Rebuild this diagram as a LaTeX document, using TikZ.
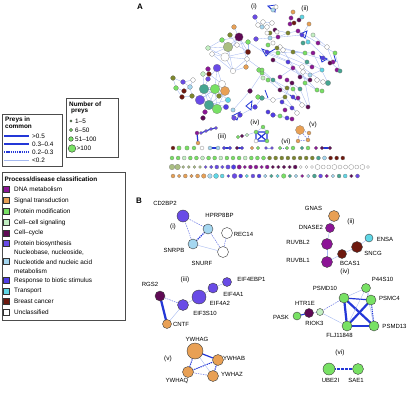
\documentclass[tikz,border=0pt]{standalone}
\usepackage{fontspec}
\setmainfont{Liberation Sans}
\definecolor{dna}{RGB}{140,20,150}
\definecolor{sig}{RGB}{232,160,85}
\definecolor{pmod}{RGB}{120,225,100}
\definecolor{ccs}{RGB}{195,240,195}
\definecolor{ccy}{RGB}{95,10,85}
\definecolor{pbio}{RGB}{105,75,230}
\definecolor{nuc}{RGB}{165,215,240}
\definecolor{resp}{RGB}{80,60,230}
\definecolor{trn}{RGB}{95,215,230}
\definecolor{bc}{RGB}{110,25,15}
\definecolor{olv}{RGB}{125,135,45}
\definecolor{olvl}{RGB}{170,190,130}
\definecolor{teal}{RGB}{70,165,145}
\definecolor{strong}{RGB}{35,55,215}
\definecolor{weak}{RGB}{165,185,240}
\begin{document}
\begin{tikzpicture}[x=1pt,y=-1pt,
  e5/.style={strong,line width=2.2pt},
  e3/.style={strong,line width=1.2pt},
  e2/.style={strong,line width=1.1pt,dash pattern=on 1.3pt off 0.9pt},
  e2t/.style={strong!70,line width=0.5pt,dash pattern=on 1.5pt off 1pt},
  e1/.style={weak,line width=0.4pt},
  a1/.style={weak,line width=0.35pt},
  a3/.style={strong,line width=0.8pt},
  pn/.style={circle,draw=black!75,line width=0.4pt,inner sep=0pt,minimum size=#1},
  lab/.style={font=\fontsize{6}{7}\selectfont,inner sep=0pt},
  legt/.style={font=\fontsize{6.4}{7.5}\selectfont,anchor=west,inner sep=0pt},
  legb/.style={font=\bfseries\fontsize{6.4}{7.5}\selectfont,anchor=west,inner sep=0pt},
  sq/.style={draw=black!80,line width=0.4pt},
  tag/.style={font=\fontsize{6.5}{7.5}\selectfont,inner sep=0pt},
  dot/.style={draw=black!55,line width=0.2pt}]
\useasboundingbox (0,0) rectangle (413,396);
% ---------------- panel letters
\node[font=\bfseries\fontsize{8}{9}\selectfont,inner sep=0pt] (lA) at (140,7) {A};
\node[font=\bfseries\fontsize{8}{9}\selectfont,inner sep=0pt] (lB) at (139,201) {B};
% ---------------- legend 1
\draw[black!70,line width=0.5pt] (2,114) rectangle (62,166);
\node[legb] (t1a) at (5,119.5) {Preys in};
\node[legb] (t1b) at (5,127) {common};
\draw[e5] (4,136) -- (29,136); \node[legt] (l1) at (32,136) {>0.5};
\draw[e3] (4,144) -- (29,144); \node[legt] (l2) at (32,144) {0.3--0.4};
\draw[e2] (4,152) -- (29,152); \node[legt] (l3) at (32,152) {0.2--0.3};
\draw[e1] (4,160) -- (29,160); \node[legt] (l4) at (32,160) {<0.2};
% ---------------- legend 2
\draw[black!70,line width=0.5pt] (66,98) rectangle (118,157);
\node[legb] (t2a) at (69,104) {Number of};
\node[legb] (t2b) at (71,111.5) {preys};
\filldraw[fill=pmod,draw=black!80,line width=0.4pt] (71,121) circle[radius=1.2];
\filldraw[fill=pmod,draw=black!80,line width=0.4pt] (71,130) circle[radius=1.6];
\filldraw[fill=pmod,draw=black!80,line width=0.4pt] (71,139) circle[radius=2.3];
\filldraw[fill=pmod,draw=black!80,line width=0.4pt] (72,148.5) circle[radius=3.8];
\node[legt] at (75,121) {1--5};
\node[legt] at (75,130) {6--50};
\node[legt] at (75,139) {51--100};
\node[legt] at (76.5,148.5) {>100};
% ---------------- legend 3
\draw[black!70,line width=0.5pt] (2,172) rectangle (125,320);
\node[legb] (t3) at (4.5,179) {Process/disease classification};
\foreach \yy/\cc/\tt in {189.5/dna/DNA metabolism,200.5/sig/Signal transduction,211.5/pmod/Protein modification,222.5/ccs/Cell--cell signaling,233/ccy/Cell--cycle,243.5/pbio/Protein biosynthesis,280.5/resp/Response to biotic stimulus,291/trn/Transport,301.5/bc/Breast cancer,312.5/white/Unclassified}{
  \filldraw[sq,fill=\cc] (3.5,\yy-3) rectangle (9.5,\yy+3);
  \node[legt] at (14,\yy) {\tt};}
\filldraw[sq,fill=nuc] (3.5,258.5) rectangle (9.5,264.5);
\node[legt] at (14,253) {Nucleobase, nucleoside,};
\node[legt] at (14,262) {Nucleotide and nucleic acid};
\node[legt] at (14,271) {metabolism};
% ================= panel A network (drawn directly)
\foreach \a/\b/\c/\d in {208/48/225/57,208/48/228/47,212/54/228/47,212/54/225/57,222/40/228/47,222/40/239/37,228/47/239/37,228/47/248/42,228/47/233/71,225/57/233/71,225/57/247/59,225/57/248/52,239/37/248/52,239/37/247/59,237/45/248/52,233/71/246/67,233/71/247/59,248/42/248/52,230/35/237/45,234/27/239/37,212/54/233/71,208/48/222/40,248/52/246/67,225/57/239/37,
 204/89/215/89,204/89/200/100,204/89/209/105,204/89/217/109,215/89/225/91,215/89/209/105,215/89/217/109,215/89/200/100,225/91/217/109,225/91/209/105,200/100/217/109,200/100/215/89,209/105/228/100,217/109/226/107,222/84/215/89,222/84/225/91,222/84/204/89,217/68/222/84,217/68/208/79,217/68/215/89,208/79/204/89,203/74/204/89,209/74/222/84,219/96/204/89,219/96/225/91,228/100/215/89,200/100/226/107,
 173/78/183/82,183/82/193/80,176/88/184/91,184/91/190/87,183/82/190/87,193/80/190/87,182/97/192/96,176/88/182/97,173/78/176/88,190/87/192/96,
 267/52/302/67,302/67/323/82,267/52/313/53,302/35/340/71,280/47/333/62,273/60/310/80,288/62/317/90,262/70/292/97,302/67/310/107,300/89/308/107,313/53/328/83,273/100/285/97,270/38/302/35,277/48/305/53,278/53/312/67,263/52/288/62,283/50/300/77,298/31/318/43,318/43/335/53,335/53/340/71,313/35/327/47,327/47/333/62,293/52/307/62,307/62/322/70,305/83/317/90,287/80/300/89,292/83/282/102,293/89/302/105,285/97/297/113,300/77/310/80,310/75/322/70,280/77/293/68,303/72/310/75,262/73/273/80,268/80/280/90,273/80/287/88,280/90/293/97,293/97/308/107,282/102/292/108,273/115/287/118,280/116/292/119,292/108/297/113,250/91/262/73,233/110/250/91,240/115/255/107,255/107/262/98,258/97/273/100,248/42/263/52,256/39/270/38,247/59/262/70,
 258/25/263/22,263/22/272/23,258/25/267/27,267/27/272/23,262/27/258/25,255/17/258/25,288/33/298/31,275/30/288/33,278/37/288/33,290/24/299/20,293/12/291/18,291/18/290/24,299/20/302/17,309/24/302/35}
 {\draw[a1] (\a,\b) -- (\c,\d);}
\draw[a3] (268,6) -- (276,5) -- (275,12) -- cycle;
\draw[a3] (268,6) -- (272,10);
\draw[a3] (262,49) -- (270,52) -- (266,56) -- cycle (270,52) -- (275,49);
\draw[a3] (300,34) -- (307,31) -- (305,38) -- cycle;
\draw[a3] (320,56) -- (327,59) -- (322,62) -- cycle;
\draw[a3] (334,55) -- (336,62);
\draw[a3] (232,116) -- (240,112) -- (237,120) -- cycle;
\draw[a3] (246,106) -- (252,101) -- (251,110) -- cycle;
\draw[a3] (265,90) -- (268,98);
\draw[a3] (290,95) -- (296,100);
\foreach \x/\y/\c/\r in {
 239/37/ccy/3.5,228/47/olvl/4,225/57/white/3.5,222/40/pmod/2,230/35/olv/2,234/27/sig/2,208/48/ccs/2,212/54/white/2,237/45/white/2,248/42/pmod/2,248/52/bc/2.2,247/59/white/2,233/71/white/2.2,246/67/sig/2,256/39/pbio/2,
 217/68/pbio/3.2,222/84/white/3,208/69/dna/2,203/74/ccs/2,209/74/bc/2,208/79/pbio/2,204/89/teal/4,215/89/pmod/4,225/91/sig/3.8,200/100/pbio/4,209/105/teal/4,217/109/pmod/4,219/96/olv/2,228/100/trn/2.2,226/107/resp/2.2,205/112/dna/2,203/118/ccy/2,
 173/78/olv/2,183/82/pbio/2,193/80/white/2,176/88/pmod/2,184/91/bc/2,190/87/nuc/2,192/96/olv/2,182/97/bc/2,
 240/115/resp/2,234/118/pbio/2,250/91/ccy/2,258/97/pmod/2,255/107/resp/2,259/70/pmod/2,233/110/nuc/1.8,262/98/teal/2,268/112/resp/1.8,273/115/resp/2,
 273/10/nuc/1.8,255/17/pbio/2,258/25/white/2,263/22/white/2,267/27/white/2,272/23/white/2,262/27/nuc/1.8,276/7/white/1.8,
 293/12/sig/1.8,291/18/dna/1.8,290/24/dna/1.8,294/23/bc/1.8,299/20/ccy/1.8,302/17/trn/1.8,309/24/sig/1.8,
 275/30/ccy/1.8,277/32/white/1.8,270/33/olv/1.8,278/37/dna/1.8,288/33/olv/1.8,298/31/dna/1.8,302/35/resp/1.8,303/43/teal/1.8,313/35/ccs/1.8,308/42/trn/1.8,318/43/dna/1.8,327/47/white/2,313/53/dna/1.8,323/58/resp/1.8,333/62/dna/1.8,335/53/pmod/1.8,337/70/dna/1.8,340/71/teal/1.8,330/63/ccy/1.8,
 267/52/resp/1.8,280/47/white/2,283/50/white/2,293/52/olv/1.8,273/60/ccy/1.8,305/53/pmod/1.8,307/62/teal/1.8,288/62/resp/1.8,302/67/white/2,293/68/dna/1.8,303/72/white/2,312/67/dna/1.8,322/70/trn/1.8,310/75/nuc/1.8,300/77/ccy/1.8,280/77/dna/1.8,287/80/dna/1.8,292/83/ccy/1.8,310/80/ccy/1.8,317/80/white/2,323/82/white/2,328/83/teal/2.2,305/83/pmod/1.8,317/90/pmod/1.8,322/91/pmod/1.8,280/90/ccy/1.8,287/88/olv/1.8,293/89/pmod/1.8,300/89/teal/1.8,285/97/olv/1.8,293/97/resp/1.8,298/98/dna/1.8,273/100/white/2,282/102/resp/1.8,302/105/white/2,308/107/ccy/1.8,285/110/dna/1.8,292/108/resp/1.8,297/113/white/2,280/116/pmod/1.8,287/118/resp/1.8,292/119/dna/1.8,262/73/pmod/1.8,263/78/ccs/1.8,268/80/pmod/1.8,273/80/teal/1.8,
 267/33/white/1.8,270/38/nuc/1.8,268/45/pmod/1.8,273/43/white/1.8,277/48/olv/1.8,278/53/pmod/1.8,262/70/pmod/1.8}
 {\filldraw[dot,fill=\c] (\x,\y) circle[radius={1.2*\r}];}
\draw[e3] (197,133) -- (198,143);
\draw[e3] (201,133) -- (206,131) -- (211,129) -- (216,128);
\draw[e3] (256,132) -- (267,132) -- (267,141) -- (256,141) -- cycle (256,132) -- (267,141) (267,132) -- (256,141);
\draw[a1] (263,127) -- (256,132) (263,127) -- (267,132) (238,137) -- (242,136) -- (247,135) -- (256,132);
\draw[e2t] (300,130) -- (309,133) -- (308,140) -- (298,141) -- cycle (300,130) -- (308,140);
\foreach \x/\y/\c/\r in {197/133/dna/2,198/143/sig/2,201/133/pbio/1.7,206/131/pbio/1.7,211/129/pbio/1.7,216/128/pbio/1.7,
 256/132/pmod/2,267/132/pmod/2,267/141/pmod/2,256/141/white/2,263/127/pmod/2,238/137/pmod/1.8,242/136/ccy/1.8,247/135/ccs/1.8,
 300/130/sig/4.5,309/133/sig/2,308/140/sig/2,298/141/sig/2}
 {\filldraw[dot,fill=\c] (\x,\y) circle[radius=\r];}
\node[tag] (ai) at (254,7) {(i)};
\node[tag] (aii) at (305,9) {(ii)};
\node[tag] (aiii) at (222,137) {(iii)};
\node[tag] (aiv) at (255,123) {(iv)};
\node[tag] (av) at (313,125) {(v)};
\node[tag] (avi) at (286,142) {(vi)};
\draw[e3] (210,148) -- (218,148); \draw[e3] (224,148) -- (230,148); \draw[e3] (237,148) -- (242,148);
\draw[a1] (266,148) -- (272,148); \draw[e2t] (280,148) -- (287,148); \draw[e3] (322,148) -- (330,148);
\foreach \x/\c/\r in {173/bc/2,179/pmod/2.2,187/pmod/2.2,194/pmod/2,202/white/2,210/nuc/2,218/nuc/2,224/resp/1.8,230/resp/1.8,237/ccy/1.8,242/resp/1.8,252/sig/1.8,258/pmod/1.8,266/pbio/1.6,272/pbio/1.6,280/pmod/1.8,287/pmod/1.8,293/pmod/2,302/teal/1.8,308/pmod/2,316/dna/1.8,322/ccy/1.8,330/ccy/1.8}
 {\filldraw[dot,fill=\c] (\x,148) circle[radius=\r];}
\foreach \c [count=\i from 0] in {pmod,pmod,ccs,pmod,pmod,ccs,pmod,pmod,ccs,pmod,pmod,pmod,ccs,pmod,pmod,pmod,olv,olv,olv,olv,olv,olv,olv,olv,teal,nuc,bc,bc,bc}
 {\filldraw[dot,fill=\c] ({172+\i*6.1},158) circle[radius=2];}
\foreach \c/\r [count=\i from 0] in {olvl/2.8,olvl/2.8,olvl/1.5,olvl/1.5,olvl/1.5,olvl/1.5,pbio/1.6,pbio/1.8,pbio/2,pbio/1.8,pbio/2.2,resp/2.3,dna/2.2,dna/1.8,dna/2,dna/2,dna/1.8,dna/2,ccy/1.8,ccy/1.8,ccy/1.8,ccy/1.8,ccy/2,white/1.5,white/1.5,white/1.5,white/2.5,white/2,white/2,white/2.5,white/2,white/2,white/2.5,white/2,white/2.5,white/1.5}
 {\filldraw[dot,fill=\c] ({172+\i*5.6},167) circle[radius=\r];}
\foreach \c/\r [count=\i from 0] in {sig/2,sig/1.8,sig/2,sig/1.8,sig/2,sig/2.3,nuc/2.3,trn/2.5,trn/2,resp/1.5,pbio/2.5,resp/2,trn/1.8,pbio/2,resp/2,nuc/1.8,teal/1.8,trn/1.8,pmod/2.3,teal/1.8,nuc/1.8,dna/1.6,nuc/1.8,teal/2,pbio/2,dna/1.8,nuc/1.8,teal/2,trn/2,ccy/1.8,pbio/2}
 {\filldraw[dot,fill=\c] ({173+\i*6.15},176) circle[radius=\r];}
% ================= panel B
\foreach \n/\x/\y in {cd2bp2/183/216,hprp/208/229,snrpb/193/244,rec14/227/233,snurf/223/252,
 gnas/334/216,dnase2/330/228,ruvbl2/327/244,ruvbl1/327/262,bcas1/342/254,sncg/357/247,ensa/369/238,
 rgs2/160/296,eif4ebp1/227/282,eif4a1/213/288,eif4a2/199/297,eif3s10/183/305,cntf/167/324,
 p44s10/366/288,psmd10/344/298,psmc4/371/300,psmd13/374/326,flj/347/326,htr1e/309/313,riok3/320/312,pask/297/316,
 ywhag/195/351,ywhab/218/360,ywhaq/188/372,ywhaz/213/376,ube2i/329/369,sae1/358/369}
 {\coordinate (\n) at (\x,\y);}
\draw[e2t] (cd2bp2) -- (hprp);
\draw[e2t] (cd2bp2) -- (snrpb);
\draw[e2] (hprp) -- (snrpb);
\draw[e2t] (hprp) -- (snurf);
\draw[e1] (snrpb) -- (snurf);
\draw[e2t] (rec14) -- (snurf);
\draw[e1] (gnas) -- (dnase2);
\draw[e1] (dnase2) -- (ruvbl2);
\draw[e1] (ruvbl2) -- (ruvbl1);
\draw[e1] (ruvbl1) -- (bcas1);
\draw[e1] (bcas1) -- (sncg);
\draw[e1] (sncg) -- (ensa);
\draw[e5] (rgs2) -- (cntf);
\draw[e2t] (rgs2) -- (eif3s10);
\draw[e1] (cntf) -- (eif3s10);
\draw[e1] (eif3s10) -- (eif4a2);
\draw[e1] (eif4a2) -- (eif4a1);
\draw[e1] (eif4a1) -- (eif4ebp1);
\draw[e5] (psmd10) -- (flj);
\draw[e5] (flj) -- (psmd13);
\draw[e5] (psmd10) -- (psmd13);
\draw[e5] (flj) -- (psmc4);
\draw[e3] (psmd10) -- (psmc4);
\draw[e2] (psmc4) -- (psmd13);
\draw[e1] (p44s10) -- (psmd10);
\draw[e1] (p44s10) -- (psmc4);
\draw[e1] (p44s10) -- (flj);
\draw[e1] (p44s10) -- (psmd13);
\draw[e3] (pask) -- (htr1e);
\draw[e1] (htr1e) -- (riok3);
\draw[e2t] (riok3) -- (psmd10);
\draw[e1] (riok3) -- (flj);
\draw[e3] (ywhag) -- (ywhab);
\draw[e2] (ywhag) -- (ywhaq);
\draw[e2] (ywhab) -- (ywhaq);
\draw[e2] (ywhab) -- (ywhaz);
\draw[e2t] (ywhaq) -- (ywhaz);
\draw[e1] (ywhag) -- (ywhaz);
\draw[strong,line width=2pt,dash pattern=on 2.5pt off 1.5pt] (ube2i) -- (sae1);
\foreach \n/\c/\r in {cd2bp2/pbio/6,hprp/nuc/5,snrpb/nuc/5,rec14/white/5.5,snurf/white/5.5,
 gnas/sig/5.5,dnase2/dna/4.5,ruvbl2/dna/5.5,ruvbl1/dna/5.5,bcas1/bc/4.5,sncg/bc/5.5,ensa/trn/4,
 rgs2/ccy/5,eif4ebp1/pbio/4.5,eif4a1/pbio/5,eif4a2/pbio/7,eif3s10/pbio/5.5,cntf/sig/4.5,
 p44s10/pmod/4.5,psmd10/pmod/5,psmc4/pmod/5,psmd13/pmod/5,flj/pmod/5,htr1e/ccy/4.5,riok3/ccs/3.5,pask/pmod/4,
 ywhag/sig/8,ywhab/sig/5.5,ywhaq/sig/5.5,ywhaz/sig/5.5,ube2i/pmod/6,sae1/pmod/5.5}
 {\node[pn=2*\r pt,fill=\c] (n\n) at (\n) {};}
\foreach \x/\y/\t in {165/203/CD2BP2,219.5/215/HPRP8BP,243.5/234/REC14,202/263/SNURF,174/250/SNRPB,
 313.5/208/GNAS,311/227/DNASE2,298/242/RUVBL2,298/260/RUVBL1,350/263/BCAS1,373/253/SNCG,385/239/ENSA,
 150/284/RGS2,251.5/279/EIF4EBP1,233.5/294/EIF4A1,220/303/EIF4A2,205/313/EIF3S10,181/324/CNTF,
 382.5/279/P44S10,325/288/PSMD10,389.5/298.5/PSMC4,394.5/326/PSMD13,339.5/335/FLJ11848,305/303/HTR1E,314.5/323/RIOK3,281/317/PASK,
 197/339/YWHAG,234/358/YWHAB,177/381/YWHAQ,232/374/YWHAZ,330.5/380/UBE2I,356/380/SAE1}
 {\node[lab] at (\x,\y) {\t};}
\node[tag] (bi) at (173,227) {(i)};
\node[tag] (bii) at (351,222) {(ii)};
\node[tag] (biii) at (185,280) {(iii)};
\node[tag] (biv) at (345,272) {(iv)};
\node[tag] (bv) at (168,359) {(v)};
\node[tag] (bvi) at (340,353) {(vi)};
\end{tikzpicture}
\end{document}
